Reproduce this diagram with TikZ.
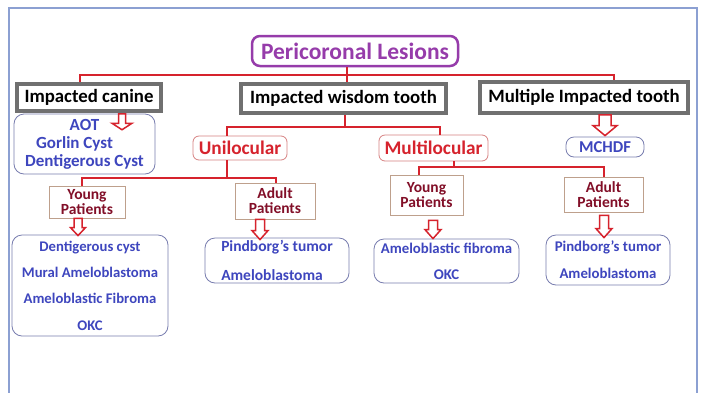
\documentclass[tikz,border=0pt]{standalone}
\usepackage{fontspec}
\setmainfont{Carlito}
\usetikzlibrary{calc}
\definecolor{lred}{RGB}{214,35,45}
\definecolor{tblue}{RGB}{62,70,190}
\definecolor{purp}{RGB}{150,60,170}
\definecolor{mroon}{RGB}{130,15,40}
\definecolor{gbord}{RGB}{112,112,112}
\definecolor{bbord}{RGB}{120,125,175}
\definecolor{tbord}{RGB}{190,160,140}
\definecolor{frm}{RGB}{140,160,210}
\definecolor{rbord}{RGB}{215,130,130}
\tikzset{
 fnt/.style 2 args={font=\fontsize{#1}{#2}\selectfont\bfseries},
 base/.style={inner sep=0pt, align=center, fill=white},
 gbox/.style={base, draw=gbord, line width=3.5pt, text=black, fnt={18.8}{22}},
 titlebox/.style={base, draw=purp, line width=2.5pt, rounded corners=8pt, text=purp, fnt={23.5}{26}},
 redbox/.style={base, draw=rbord, line width=0.8pt, rounded corners=6pt, text=lred, fnt={19.3}{22}},
 patbox/.style={base, draw=tbord, line width=0.9pt, text=mroon, fnt={15.5}{15}},
 listbox/.style={base, draw=bbord, line width=0.8pt, rounded corners=10pt, text=tblue},
 conn/.style={draw=lred, line width=1.8pt},
 harr/.style={draw=lred, fill=white, line width=1.5pt, line join=miter},
}
\newcommand\hollowarr[5]{%
 \draw[harr] let \p1=(#1), \p2=(#2) in
 (\x1-#3,\y1) -- (\x1+#3,\y1) -- (\x1+#3,\y2+#5) -- (\x1+#4,\y2+#5) -- (\x1,\y2)
 -- (\x1-#4,\y2+#5) -- (\x1-#3,\y2+#5) -- cycle;}
\begin{document}
\begin{tikzpicture}[x=1pt,y=-1pt]
\useasboundingbox (0,0) rectangle (704,392);
\fill[white] (0,0) rectangle (704,392);
% frame
\draw[frm, line width=1.5pt] (9,393) -- (9,8) -- (697,8) -- (697,393);

% nodes
\node[titlebox, minimum width=206pt, minimum height=30pt] (title) at (355,51) {Pericoronal Lesions};
\node[gbox, minimum width=144pt, minimum height=27pt] (canine) at (89,97.5) {Impacted canine};
\node[gbox, minimum width=205pt, minimum height=29pt] (wisdom) at (343.5,98.5) {Impacted wisdom tooth};
\node[gbox, minimum width=208pt, minimum height=31pt] (multiple) at (584,97.5) {Multiple Impacted tooth};

\node[listbox, fnt={17}{18}, minimum width=141pt, minimum height=60pt] (canlist) at (84.5,144)
  {AOT\\\hspace*{-20pt}Gorlin Cyst\\Dentigerous Cyst};

\node[redbox, minimum width=94pt, minimum height=24pt] (uni) at (240,148) {Unilocular};
\node[redbox, minimum width=109pt, minimum height=26pt] (multi) at (433.5,148) {Multilocular};
\node[listbox, fnt={16.6}{18}, rounded corners=8pt, minimum width=78pt, minimum height=20pt] (mchdf) at (605,147) {MCHDF};

\node[patbox, minimum width=76pt, minimum height=32pt] (youngL) at (87,202) {Young\\Patients};
\node[patbox, minimum width=80pt, minimum height=36pt] (adultL) at (275,201) {Adult\\Patients};
\node[patbox, minimum width=73pt, minimum height=40pt] (youngR) at (426.5,195) {Young\\Patients};
\node[patbox, minimum width=79pt, minimum height=35pt] (adultR) at (603.5,194.5) {Adult\\Patients};

\node[listbox, fnt={14.7}{26.4}, minimum width=156pt, minimum height=101pt] (listL) at (90,285.5)
  {Dentigerous cyst\\Mural Ameloblastoma\\Ameloblastic Fibroma\\OKC};
\node[listbox, fnt={15.5}{29}, align=left, minimum width=144pt, minimum height=45pt] (listAL) at (277,260.5)
  {Pindborg’s tumor\\Ameloblastoma};
\node[listbox, fnt={14.8}{26}, minimum width=145pt, minimum height=44pt] (listYR) at (446.5,261)
  {Ameloblastic fibroma\\OKC};
\node[listbox, fnt={14.8}{27}, minimum width=124pt, minimum height=50pt] (listAR) at (608,260)
  {Pindborg's tumor\\Ameloblastoma};

% junction coordinates
\coordinate (j1) at (347,75);
\coordinate (xc) at (80,0);
\coordinate (xm) at (614,0);
\coordinate (j2) at (345,127);
\coordinate (xu) at (227,0);
\coordinate (xmu) at (440,0);
\coordinate (j3) at (227,178);
\coordinate (xyl) at (82,0);
\coordinate (xal) at (276,0);
\coordinate (j4) at (454,167);
\coordinate (xyr) at (419,0);
\coordinate (xar) at (604,0);

% connectors
\begin{scope}[conn]
\draw (title.south -| j1) -- (wisdom.north -| j1);
\draw (canine.north -| xc) |- (j1) -| (multiple.north -| xm);
\draw (wisdom.south -| j2) -- (j2);
\draw (uni.north -| xu) |- (j2) -| (multi.north -| xmu);
\draw (uni.south -| j3) -- (j3);
\draw (youngL.north -| xyl) |- (j3) -| (adultL.north -| xal);
\draw (multi.south -| j4) -- (j4);
\draw (youngR.north -| xyr) |- (j4) -| (adultR.north -| xar);
\end{scope}

% hollow arrows
\hollowarr{$(canine.south)+(33,1)$}{$(canine.south)+(33,17)$}{3.5pt}{10pt}{6.5pt}
\hollowarr{$(multiple.south)+(21,0)$}{$(mchdf.north)+(0,-1)$}{6pt}{12pt}{10pt}
\hollowarr{$(youngL.south)+(-9,0)$}{$(listL.north)+(0,1)$}{4pt}{7.5pt}{8pt}
\hollowarr{$(adultL.south)+(-15,0)$}{$(listAL.north)+(0,2)$}{4.5pt}{8pt}{9pt}
\hollowarr{$(youngR.south)+(6.5,5)$}{$(listYR.north)+(0,0)$}{4.5pt}{8pt}{9pt}
\hollowarr{$(adultR.south)+(0.5,3)$}{$(listAR.north)+(0,3)$}{4.5pt}{8pt}{9pt}
\end{tikzpicture}
\end{document}
